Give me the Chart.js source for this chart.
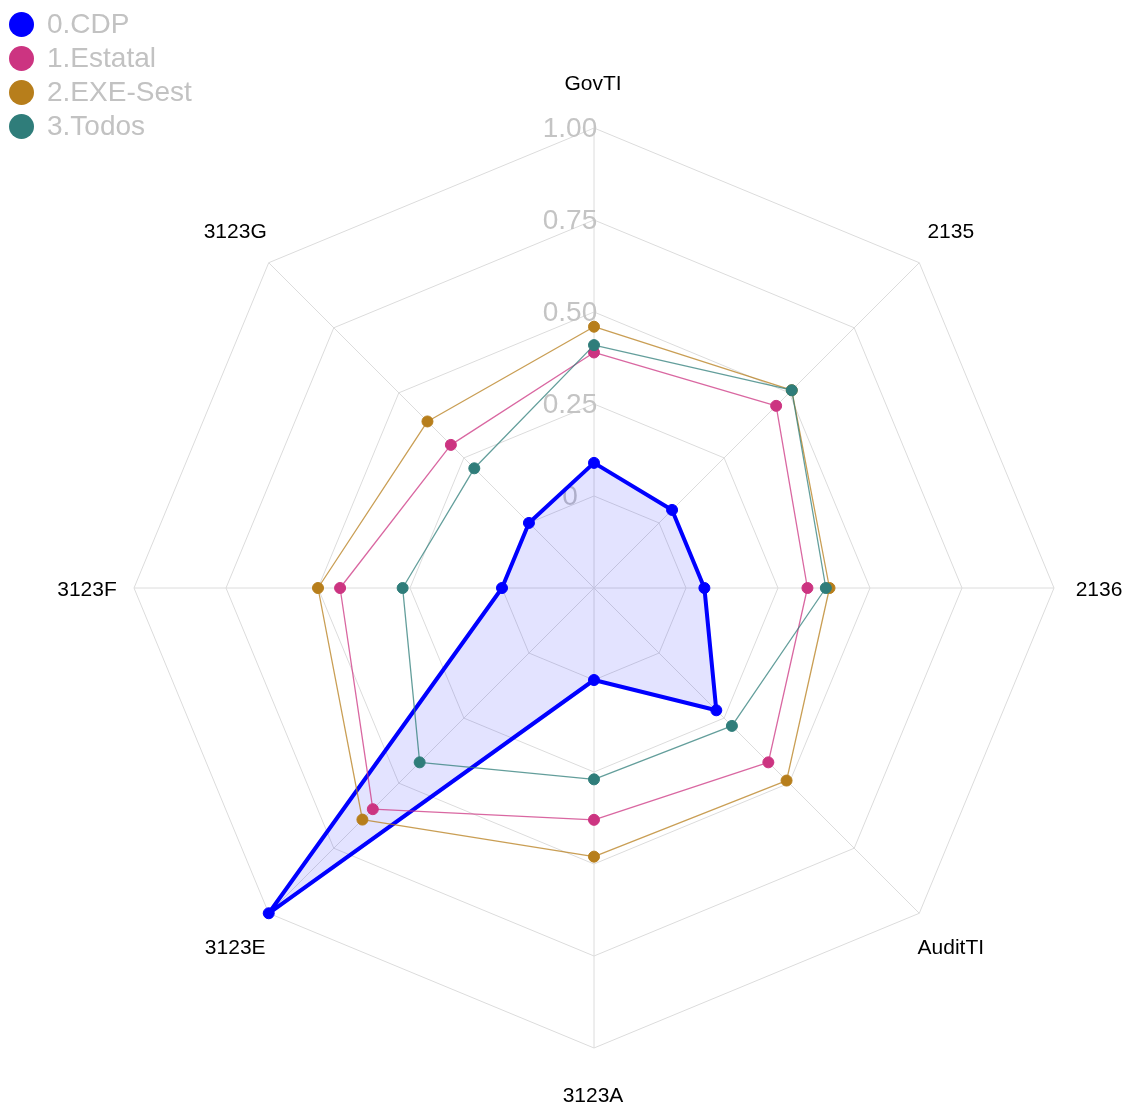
<!DOCTYPE html>
<html>
<head>
<meta charset="utf-8">
<title>Radar</title>
<script src="https://cdn.jsdelivr.net/npm/chart.js@4.4.1/dist/chart.umd.min.js"></script>
<style>
    html, body { margin: 0; padding: 0; background: #ffffff; }
    #wrap { position: relative; width: 1123px; height: 1105px; }
    #radar { position: absolute; left: 0; top: 0; }
    #legend { position: absolute; left: 9px; top: 7px; font-family: "Liberation Sans", Arial, sans-serif; }
    .item { display: flex; align-items: center; height: 34px; }
    .dot { width: 25px; height: 25px; border-radius: 50%; margin-right: 13px; }
    .name { font-size: 28px; color: #c2c2c2; line-height: 1; }
</style>
</head>
<body>
<div id="wrap">
    <canvas id="radar" width="1123" height="1105"></canvas>
    <div id="legend"></div>
</div>
<script>
// -- Data --
const axisLabels = ['GovTI', '2135', '2136', 'AuditTI', '3123A', '3123E', '3123F', '3123G'];
const seriesNames = ['0.CDP', '1.Estatal', '2.EXE-Sest', '3.Todos'];
const cdp = [0.09, 0.05, 0.05, 0.22, 0.00, 1.00, 0.00, 0.00];
const estatal = [0.39, 0.45, 0.33, 0.42, 0.38, 0.60, 0.44, 0.30];
const exeSest = [0.46, 0.51, 0.39, 0.49, 0.48, 0.64, 0.50, 0.39];
const todos = [0.41, 0.51, 0.38, 0.28, 0.27, 0.42, 0.27, 0.21];
const tickLabels = ['', '0', '0.25', '0.50', '0.75', '1.00'];

const colors = ['#0000ff', '#cc3481', '#b77e1b', '#2f7d7a'];
const lineColors = ['#0000ff', 'rgba(204,52,129,0.75)', 'rgba(183,126,27,0.75)', 'rgba(47,125,122,0.75)'];
const values = [cdp, estatal, exeSest, todos];

// -- Legend (html) --
const legendEl = document.getElementById('legend');
legendEl.innerHTML = seriesNames.map((n, i) =>
    `<div class="item"><span class="dot" style="background:${colors[i]}"></span><span class="name">${n}</span></div>`
).join('');

// -- Plugin: tick + axis labels --
const labelPlugin = {
    id: 'radarText',
    beforeDatasetsDraw(chart) {
        const scale = chart.scales.r;
        const ctx = chart.ctx;
        ctx.save();
        ctx.font = '28px "Liberation Sans", Arial, sans-serif';
        ctx.fillStyle = '#c4c4c4';
        ctx.textAlign = 'center';
        ctx.textBaseline = 'middle';
        scale.ticks.forEach((t, i) => {
            const txt = tickLabels[i];
            if (!txt) return;
            const d = scale.getDistanceFromCenterForValue(t.value);
            ctx.fillText(txt, scale.xCenter - 24, scale.yCenter - d + 1);
        });
        ctx.restore();
    },
    afterDraw(chart) {
        const scale = chart.scales.r;
        const ctx = chart.ctx;
        ctx.save();
        ctx.font = '21px "Liberation Sans", Arial, sans-serif';
        ctx.fillStyle = '#000000';
        ctx.textAlign = 'center';
        ctx.textBaseline = 'middle';
        axisLabels.forEach((lab, i) => {
            const p = scale.getPointPosition(i, scale.drawingArea * 1.1);
            ctx.fillText(lab, p.x - 1, p.y + 2);
        });
        ctx.restore();
    }
};

// -- Chart --
const ctx = document.getElementById('radar').getContext('2d');
const chartInstance = new Chart(ctx, {
    type: 'radar',
    data: {
        labels: axisLabels,
        datasets: values.map((v, i) => ({
            label: seriesNames[i],
            data: v,
            order: values.length - 1 - i, // later groups on top, like the original
            borderColor: lineColors[i],
            backgroundColor: i === 0 ? 'rgba(0,0,255,0.11)' : 'rgba(0,0,0,0)',
            fill: i === 0 ? 'start' : false,
            borderWidth: i === 0 ? 4 : 1.3,
            borderJoinStyle: 'round',
            pointRadius: 5.5,
            pointBorderWidth: 1,
            pointBackgroundColor: colors[i],
            pointBorderColor: colors[i],
            tension: 0
        }))
    },
    options: {
        responsive: false,
        animation: false,
        layout: {
            padding: { left: 134, right: 69, top: 128, bottom: 57 }
        },
        plugins: {
            legend: { display: false },
            tooltip: { enabled: false }
        },
        scales: {
            r: {
                min: -0.25,
                max: 1,
                ticks: { display: false, stepSize: 0.25 },
                pointLabels: { display: false },
                grid: { color: '#dcdcdc', lineWidth: 1 },
                angleLines: { color: '#dcdcdc', lineWidth: 1 }
            }
        }
    },
    plugins: [labelPlugin]
});
</script>
</body>
</html>
